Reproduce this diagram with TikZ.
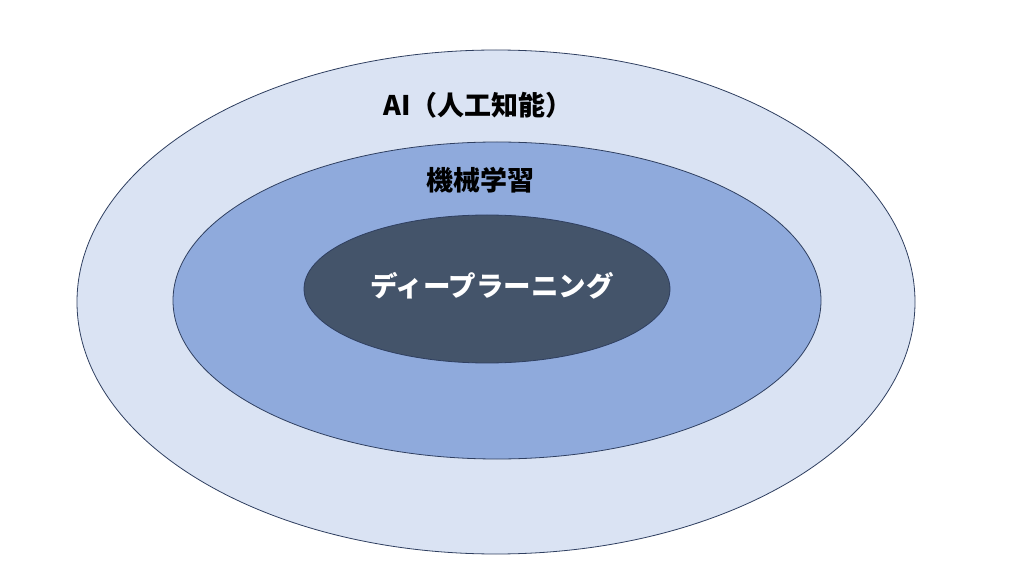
\documentclass[tikz,border=0pt]{standalone}
\usepackage{fontspec}
\newfontfamily\jpfont{Noto Sans CJK JP}
\usetikzlibrary{shapes.geometric}
\definecolor{aifill}{HTML}{DAE3F3}
\definecolor{mlfill}{HTML}{8FAADC}
\definecolor{dlfill}{HTML}{44546A}
\definecolor{rim}{HTML}{2F3F60}
\begin{document}
\begin{tikzpicture}[x=1pt,y=-1pt,
    ring/.style={ellipse,draw=rim,line width=0.8pt,inner sep=0pt,outer sep=0pt},
    lbl/.style={font=\jpfont\bfseries\fontsize{27}{32}\selectfont,inner sep=0pt}]
  \useasboundingbox (0,0) rectangle (1023,577);
  \node[ring,fill=aifill,minimum width=838pt,minimum height=504pt] (ai) at (496,302) {};
  \node[ring,fill=mlfill,minimum width=648pt,minimum height=317pt] (ml) at (497,300.5) {};
  \node[ring,fill=dlfill,minimum width=366pt,minimum height=148pt] (dl) at (487,289) {};
  \node[lbl] (aitext) at (478,105) {AI（人工知能）};
  \node[lbl] (mltext) at (480,180) {機械学習};
  \node[lbl,text=white,font=\jpfont\bfseries\fontsize{27.5}{33}\selectfont] (dltext) at (492,286) {ディープラーニング};
\end{tikzpicture}
\end{document}
